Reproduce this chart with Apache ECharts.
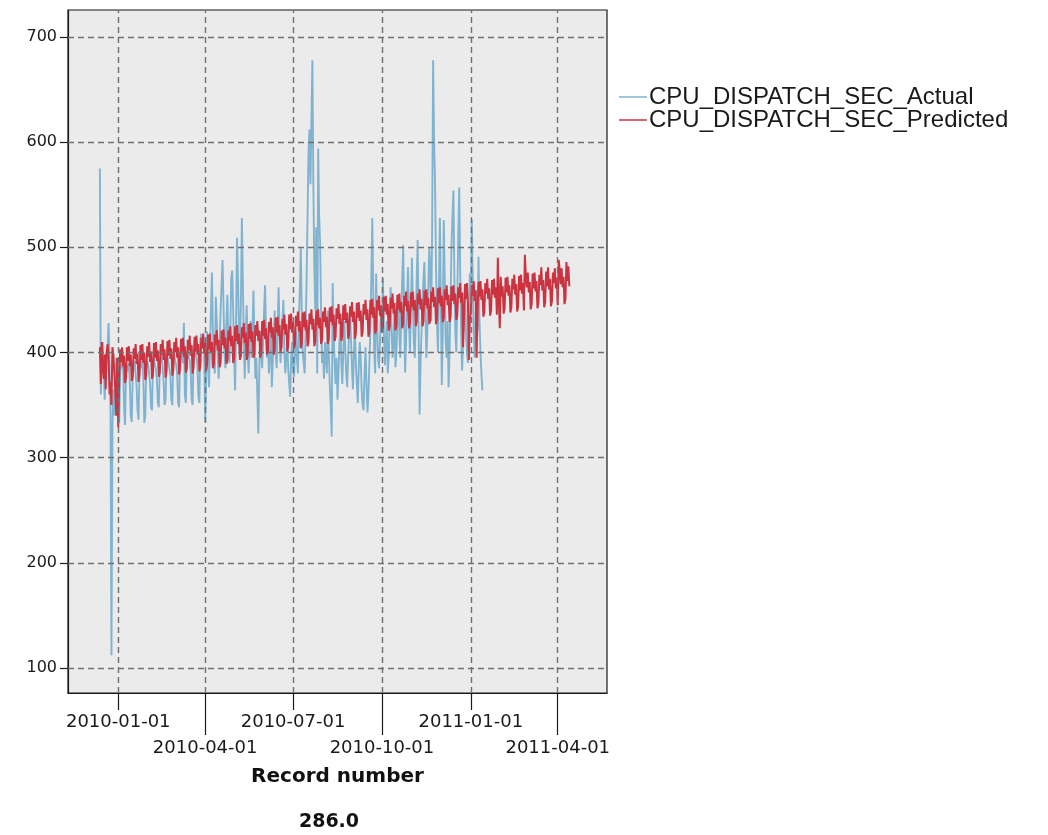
<!DOCTYPE html>
<html>
<head>
<meta charset="utf-8">
<script src="https://cdn.jsdelivr.net/npm/echarts@6/dist/echarts.min.js"></script>
<style>
html,body{margin:0;padding:0;background:#fff;}
#chart{width:1048px;height:835px;}
</style>
</head>
<body>
<div id="chart"></div>
<script>
// ---- data ----
var startDate = [2009, 12, 13];           // first record (daily records)
var seriesNames = ['CPU_DISPATCH_SEC_Actual', 'CPU_DISPATCH_SEC_Predicted'];
var xTicksTop = ['2010-01-01', '2010-07-01', '2011-01-01'];
var xTicksBottom = ['2010-04-01', '2010-10-01', '2011-04-01'];
var yTicks = [100, 200, 300, 400, 500, 600, 700];
var xRange = ['2009-11-10', '2011-05-22'];
var yRange = [76.2, 725.7];
var xTitle = 'Record number';
var footerText = '286.0';

var actualValues = [
575,360,395,410,385,355,380,
400,405,428,390,345,112,330,
365,340,375,395,385,340,333,
380,392,385,390,350,331,375,
388,382,390,372,340,334,378,
386,392,380,368,345,336,382,
390,385,394,375,333,340,385,
392,388,380,370,348,345,390,
395,388,384,375,352,348,388,
392,398,386,372,350,355,392,
396,390,385,378,355,350,394,
398,392,388,380,352,348,396,
400,395,390,428,360,352,398,
402,396,392,384,355,350,400,
405,398,395,388,358,352,412,
418,410,415,400,334,372,420,
398,367,405,440,476,420,390,
380,453,430,395,375,410,440,
465,488,445,400,385,430,455,
410,390,420,470,478,440,400,
364,430,509,470,420,395,450,
528,470,410,
375,420,445,400,380,410,430,395,420,459,
410,375,395,360,323,380,420,400,385,410,
440,464,420,395,410,380,400,430,367,390,
415,440,400,385,420,462,420,390,410,430,
450,400,380,395,410,385,370,358,395,410,
385,377,400,420,395,380,430,460,499,440,
400,390,380,420,470,530,590,612,560,620,
678,560,480,440,519,380,594,530,504,440,
390,400,375,410,395,380,440,400,370,350,
320,466,420,390,370,395,355,380,410,425,
390,370,400,430,405,380,367,395,420,440,
410,385,365,400,425,390,370,352,385,410,
395,365,350,345,380,405,370,343,360,390,
420,470,528,460,400,380,475,430,395,385,
410,440,420,471,420,388,410,430,380,395,
430,462,420,395,410,440,386,400,430,455,
420,395,440,470,502,440,381,410,450,481,
430,400,440,490,450,410,395,430,470,507,
420,341,390,420,450,470,486,440,395,420,
460,500,480,430,520,678,600,562,480,430,
400,460,528,450,369,420,526,470,410,395,
430,367,400,450,500,530,554,470,420,400,
450,510,557,480,420,383,410,440,460,420,
400,390,430,475,450,526,470,420,395,430,
460,420,491,430,400,380,364
];

var predictedValues = [
405,370,410,385,375,398,365,
400,408,395,360,372,350,405,
398,380,365,340,395,329,375,
403,391,405,387,397,371,376,
405,392,406,387,398,373,377,
404,394,408,389,399,372,379,
407,393,408,390,400,374,379,
406,396,410,391,401,375,380,
409,395,410,392,402,377,381,
408,398,412,393,403,376,383,
411,397,412,394,404,378,383,
410,400,414,395,405,379,385,
413,399,414,396,406,381,385,
412,402,416,397,407,380,387,
415,401,416,398,408,382,387,
414,404,418,399,409,383,389,
417,403,418,400,410,385,389,
417,407,421,402,412,386,391,
421,407,422,404,414,389,393,
421,411,425,406,416,390,395,
425,411,426,408,418,393,397,
424,414,428,409,419,393,398,
427,413,428,410,420,395,399,
426,416,430,411,421,395,400,
430,416,431,413,423,398,402,
429,419,433,414,424,398,403,
433,419,434,416,426,401,405,
432,422,436,417,427,401,406,
436,422,437,419,429,404,408,
435,425,439,420,430,404,409,
438,424,439,421,431,406,410,
437,427,441,422,432,406,411,
440,426,441,423,433,408,412,
439,429,443,424,434,408,413,
443,429,444,426,436,411,415,
442,432,446,427,437,411,416,
445,431,446,428,438,413,417,
444,434,448,429,439,413,418,
447,433,448,430,440,415,419,
446,436,450,431,441,415,420,
450,436,451,433,443,418,422,
450,440,454,435,445,419,424,
453,439,454,436,446,421,425,
452,442,456,437,447,421,426,
455,441,456,438,448,423,427,
454,444,458,439,449,423,428,
457,443,458,440,450,425,429,
456,446,460,441,451,425,430,
459,445,460,442,452,427,431,
458,448,462,443,453,427,432,
461,447,462,444,454,429,433,
460,450,464,445,455,429,434,
463,449,464,446,456,431,435,
462,452,466,447,457,405,436,
465,451,466,448,393,432,437,
464,454,468,449,459,395,438,
467,453,468,450,460,434,439,
466,456,470,451,461,435,440,
469,455,470,452,462,436,490,
450,423,472,453,463,437,442,
471,457,472,454,464,438,443,
470,460,474,455,465,439,444,
473,459,474,456,466,440,493,
472,462,476,457,467,441,446,
475,461,476,458,468,442,447,
474,464,481,459,469,443,448,
477,463,481,460,470,444,449,
476,466,480,461,471,445,488,
479,465,480,462,472,446,451,
486,468,482,463
];

// ---- helpers ----
function parseDay(s) { var p = s.split('-'); return new Date(+p[0], +p[1] - 1, +p[2]).getTime(); }
function toPairs(vals) {
  return vals.map(function (v, i) {
    return [new Date(startDate[0], startDate[1] - 1, startDate[2] + i).getTime(), v];
  });
}
function fmt(v) {
  var d = new Date(v);
  var m = d.getMonth() + 1, dd = d.getDate();
  return d.getFullYear() + '-' + (m < 10 ? '0' : '') + m + '-' + (dd < 10 ? '0' : '') + dd;
}
var FONT = '"DejaVu Sans", "Liberation Sans", Arial, sans-serif';
var topTs = xTicksTop.map(parseDay);
var botTs = xTicksBottom.map(parseDay);
var xMin = parseDay(xRange[0]), xMax = parseDay(xRange[1]);
var gridLineStyle = { color: '#707070', type: [6, 4], width: 1.4 };

var gridMarks = topTs.concat(botTs).map(function (t) { return { xAxis: t }; })
  .concat(yTicks.map(function (v) { return { yAxis: v }; }));

var chart = echarts.init(document.getElementById('chart'), null, { renderer: 'canvas' });
chart.setOption({
  animation: false,
  backgroundColor: '#ffffff',
  grid: {
    left: 68, top: 10, right: 441, bottom: 142,
    show: true, backgroundColor: '#ebebeb', borderColor: '#1a1a1a', borderWidth: 1.2
  },
  legend: {
    orient: 'vertical', left: 614, top: 80, itemWidth: 28, itemHeight: 1.5, itemGap: -1,
    icon: 'rect',
    data: seriesNames,
    textStyle: { fontSize: 24, color: '#1a1a1a', fontFamily: '"Liberation Sans", Arial, sans-serif',
      padding: [0, 0, 0, -3] }
  },
  xAxis: [
    {
      type: 'value', position: 'bottom', min: xMin, max: xMax, scale: true,
      axisLine: { show: true, lineStyle: { color: '#1a1a1a', width: 1.2 } },
      axisTick: { show: true, customValues: topTs, length: 17, lineStyle: { color: '#1a1a1a', width: 1.2 } },
      axisLabel: { show: true, customValues: topTs, margin: 20, formatter: fmt,
        fontSize: 18, color: '#1a1a1a', fontFamily: FONT, hideOverlap: false },
      splitLine: { show: false }
    },
    {
      type: 'value', position: 'bottom', offset: 0, min: xMin, max: xMax, scale: true,
      axisLine: { show: false },
      axisTick: { show: true, customValues: botTs, length: 42, lineStyle: { color: '#1a1a1a', width: 1.2 } },
      axisLabel: { show: true, customValues: botTs, margin: 46, formatter: fmt,
        fontSize: 18, color: '#1a1a1a', fontFamily: FONT, hideOverlap: false },
      splitLine: { show: false }
    }
  ],
  yAxis: {
    type: 'value', min: yRange[0], max: yRange[1],
    axisLine: { show: true, lineStyle: { color: '#1a1a1a', width: 1.2 } },
    axisTick: { show: true, customValues: yTicks, length: 8, lineStyle: { color: '#1a1a1a', width: 1.2 } },
    axisLabel: { show: true, customValues: yTicks, margin: 11, fontSize: 16, color: '#1a1a1a', fontFamily: FONT },
    splitLine: { show: false }
  },
  graphic: [
    { type: 'text', x: 337.5, y: 777, style: { text: xTitle, fill: '#111',
      font: 'bold 20px ' + FONT, align: 'center', verticalAlign: 'middle',
      textAlign: 'center', textVerticalAlign: 'middle' } },
    { type: 'text', x: 329, y: 822, style: { text: footerText, fill: '#111',
      font: 'bold 19px ' + FONT, align: 'center', verticalAlign: 'middle',
      textAlign: 'center', textVerticalAlign: 'middle' } }
  ],
  series: [
    {
      name: 'grid', type: 'line', data: [], z: 1, silent: true,
      markLine: { silent: true, symbol: ['none', 'none'], label: { show: false },
        lineStyle: gridLineStyle, data: gridMarks, animation: false }
    },
    {
      name: seriesNames[0], type: 'line', z: 2, showSymbol: false, symbol: 'none',
      data: toPairs(actualValues),
      itemStyle: { color: '#80b3cf' },
      lineStyle: { color: '#80b3cf', width: 1.9 }
    },
    {
      name: seriesNames[1], type: 'line', z: 3, showSymbol: false, symbol: 'none',
      data: toPairs(predictedValues),
      itemStyle: { color: '#cc3340' },
      lineStyle: { color: '#cc3340', width: 2 }
    }
  ]
});
</script>
</body>
</html>
